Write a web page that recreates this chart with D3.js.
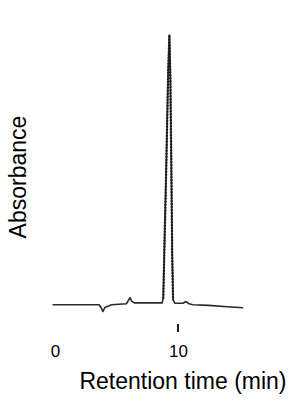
<!DOCTYPE html>
<head>
<meta charset="utf-8">
<style>
body { margin: 0; background: #fff; }
svg { display: block; font-family: "Liberation Sans", Arial, sans-serif; }
.trace { fill: none; stroke: #2a2a2a; stroke-width: 1.6; stroke-linejoin: round; }
.peak { fill: none; stroke: #1a1a1a; stroke-width: 2.2; stroke-dasharray: 2 1; }
</style>
</head>
<body>
<svg width="293" height="400"></svg>
<script src="https://d3js.org/d3.v7.min.js"></script>
<script>
// chromatogram (time in min, absorbance in arbitrary units)
var times = [-0.2, 3.6, 3.75, 3.9, 4.05, 4.3, 4.6, 5.8, 5.95, 6.1, 6.25, 6.45, 8.7, 8.8, 8.9, 9.05, 9.2, 9.3, 9.38, 9.46, 9.53, 9.6, 9.75, 10.4, 10.65, 10.9, 11.2, 12.5, 14, 15.3];
var absorb = [-0.3, -0.3, -1.4, -2.8, -1.3, -0.8, -0.3, 0.1, 1.2, 2.4, 1.0, 0.4, 0.4, 2, 22, 52, 86, 100, 84, 50, 18, 1.5, 0.3, 0.3, 0.9, 0.1, -0.3, -0.5, -1.0, -1.4];
var tickVals = [0, 10];
var markTimes = [10];

var svg = d3.select("svg");

var x = d3.scaleLinear().domain([0, 10]).range([55, 178]);
var y = d3.scaleLinear().domain([0, 100]).range([304, 35]);

var pts = times.map(function(t, i) { return [t, absorb[i]]; });

var line = d3.line()
    .x(function(d) { return x(d[0]); })
    .y(function(d) { return y(d[1]); });

svg.append("path")
    .attr("class", "trace")
    .attr("d", line(pts));

// the main peak looks speckled in the scan, overlay a dashed stroke
svg.append("path")
    .attr("class", "peak")
    .attr("d", line(pts.filter(function(d) { return d[0] >= 8.8 && d[0] <= 9.6; })));

// small mark under the 10 min position
svg.selectAll(".mark")
    .data(markTimes)
    .enter().append("line")
    .attr("class", "mark")
    .attr("x1", function(d) { return x(d); })
    .attr("x2", function(d) { return x(d); })
    .attr("y1", 324)
    .attr("y2", 332)
    .attr("stroke", "#222")
    .attr("stroke-width", 2);

var axis = svg.append("g")
    .attr("transform", "translate(0,340)")
    .call(d3.axisBottom(x).tickValues(tickVals).tickSize(0).tickPadding(0).tickFormat(d3.format("d")));
axis.select(".domain").remove();
axis.selectAll("text").attr("font-size", 17).attr("dy", "1em").attr("fill", "#000")
    .attr("font-family", "Liberation Sans, Arial, sans-serif");

svg.append("text")
    .attr("x", 183)
    .attr("y", 389)
    .attr("text-anchor", "middle")
    .attr("font-size", 23)
    .text("Retention time (min)");

svg.append("text")
    .attr("transform", "translate(26,177) rotate(-90)")
    .attr("text-anchor", "middle")
    .attr("font-size", 23)
    .text("Absorbance");
</script>
</body>
